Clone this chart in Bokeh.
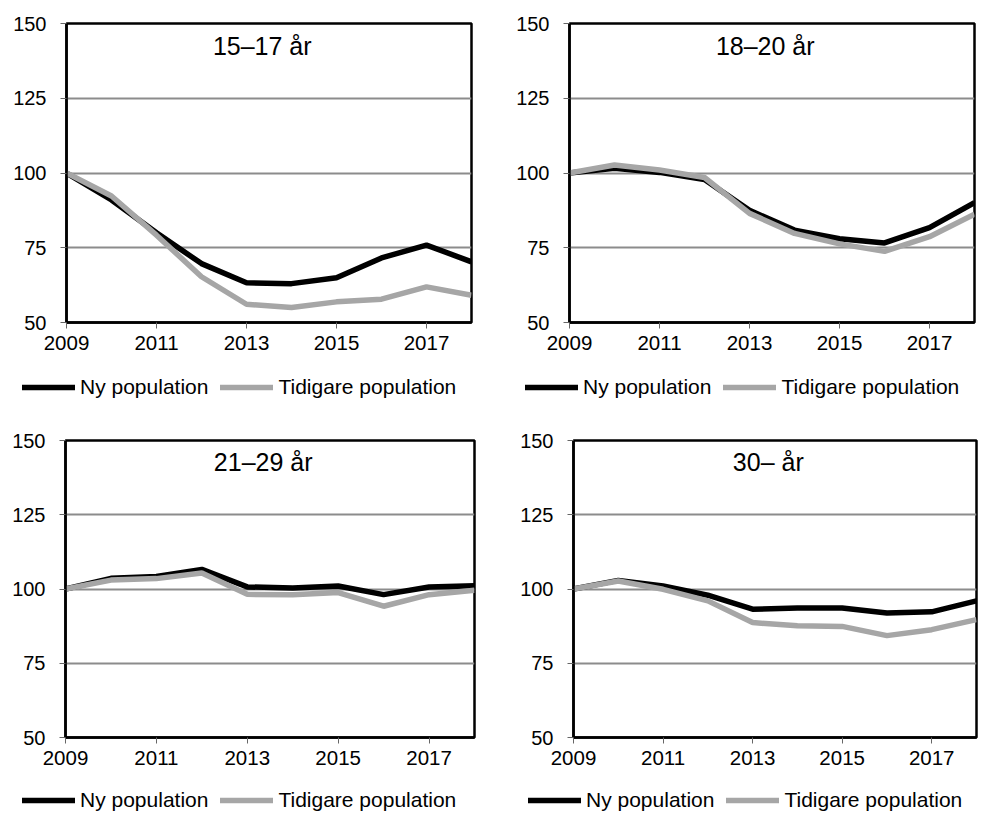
from bokeh.plotting import figure
from bokeh.models import Legend, LegendItem, FixedTicker, Range1d
from bokeh.layouts import column, row
from bokeh.embed import file_html
from bokeh.resources import INLINE

years = [2009, 2010, 2011, 2012, 2013, 2014, 2015, 2016, 2017, 2018]
x_ticks = [2009, 2011, 2013, 2015, 2017]
y_ticks = [50, 75, 100, 125, 150]

titles = ["15–17 år", "18–20 år", "21–29 år", "30– år"]

ny_15_17 = [100, 91, 80, 69.7, 63.3, 63, 65, 71.6, 75.9, 70.3]
tid_15_17 = [100, 92.3, 79.2, 65.3, 56.1, 55, 56.9, 57.8, 61.9, 59.1]

ny_18_20 = [100, 101.6, 100.2, 97.8, 87.5, 80.9, 78, 76.6, 81.7, 90.1]
tid_18_20 = [100, 102.7, 101, 98.5, 86.5, 79.8, 76.3, 73.8, 78.7, 86.2]

ny_21_29 = [100, 103.6, 104.2, 106.6, 100.7, 100.3, 101, 98.1, 100.7, 101.1]
tid_21_29 = [100, 103, 103.5, 105.4, 98.2, 98.1, 98.8, 94.2, 98.1, 99.6]

ny_30 = [100, 102.9, 101, 97.9, 93.2, 93.6, 93.6, 91.9, 92.3, 96]
tid_30 = [100, 102.7, 99.9, 96, 88.7, 87.6, 87.4, 84.3, 86.3, 89.7]

series_names = ["Ny population", "Tidigare population"]
series_colors = ["#000000", "#a6a6a6"]

FONT = "Liberation Sans"
LW = 5.5


def make_chart(title, ny, tid, width, height, b_left, b_top, frame_w, frame_h):
    b_right = width - b_left - frame_w
    b_bottom = height - b_top - frame_h
    p = figure(width=width, height=height, output_backend="svg", toolbar_location=None,
               x_range=Range1d(2009, 2018), y_range=Range1d(50, 150),
               min_border_left=b_left, min_border_right=b_right,
               min_border_top=b_top, min_border_bottom=b_bottom)
    p.background_fill_color = "white"
    p.border_fill_color = "white"
    p.outline_line_color = "black"
    p.outline_line_width = 2.5

    p.xgrid.visible = False
    p.ygrid.ticker = FixedTicker(ticks=y_ticks)
    p.ygrid.grid_line_color = "#8c8c8c"
    p.ygrid.grid_line_width = 1.8

    p.xaxis.ticker = FixedTicker(ticks=x_ticks)
    p.yaxis.ticker = FixedTicker(ticks=y_ticks)
    for ax in (p.xaxis[0], p.yaxis[0]):
        ax.axis_line_color = "black"
        ax.axis_line_width = 2.5
        ax.major_tick_line_color = "#666666"
        ax.major_tick_line_width = 1
        ax.major_tick_in = 0
        ax.major_tick_out = 6
        ax.minor_tick_line_color = None
        ax.major_label_text_font = FONT
        ax.major_label_text_font_size = "20px"
        ax.major_label_text_color = "black"
    p.xaxis.major_label_text_font_size = "20.5px"
    p.xaxis.major_label_standoff = 7
    p.yaxis.major_label_standoff = 14

    p.line(years, ny, line_color=series_colors[0], line_width=LW)
    p.line(years, tid, line_color=series_colors[1], line_width=LW)

    p.text(x=[2013.35], y=[142.6], text=[title], text_align="center",
           text_baseline="middle", text_font_size="25px", text_color="black",
           text_font={"value": FONT})
    return p


def make_legend(renderers, lx, ly):
    legend = Legend(items=[LegendItem(label=series_names[0], renderers=[renderers[0]]),
                           LegendItem(label=series_names[1], renderers=[renderers[1]])],
                    orientation="horizontal", location=(lx, ly))
    legend.label_text_font = FONT
    legend.label_text_font_size = "21px"
    legend.label_text_color = "black"
    legend.glyph_width = 53
    legend.glyph_height = 24
    legend.label_height = 24
    legend.label_standoff = 5
    legend.spacing = 12
    legend.padding = 0
    legend.margin = 0
    legend.border_line_color = None
    legend.background_fill_alpha = 0
    return legend


def make_legend_fig(width, height, positions):
    f = figure(width=width, height=height, output_backend="svg", toolbar_location=None,
               x_range=Range1d(0, 1), y_range=Range1d(0, 1),
               x_axis_type=None, y_axis_type=None,
               min_border_left=0, min_border_right=0, min_border_top=0, min_border_bottom=0)
    f.grid.visible = False
    f.outline_line_color = None
    f.background_fill_color = "white"
    f.border_fill_color = "white"
    # legend key renderers (kept outside the visible range; only their legend keys show)
    r1 = f.line(x=[-10, -9], y=[-10, -9], line_color=series_colors[0], line_width=LW, line_cap="round")
    r2 = f.line(x=[-10, -9], y=[-10, -9], line_color=series_colors[1], line_width=LW, line_cap="round")
    for lx, ly in positions:
        f.add_layout(make_legend([r1, r2], lx, ly), "center")
    return f


c1 = make_chart(titles[0], ny_15_17, tid_15_17, 500, 360, 66, 23, 405, 299)
c2 = make_chart(titles[1], ny_18_20, tid_18_20, 500, 360, 69, 23, 405, 299)
c3 = make_chart(titles[2], ny_21_29, tid_21_29, 500, 357, 65, 22, 409, 297)
c4 = make_chart(titles[3], ny_30, tid_30, 500, 357, 73, 22, 403, 297)

l_top = make_legend_fig(1000, 58, [(22, 19), (525, 19)])
l_bot = make_legend_fig(1000, 59, [(22, 22), (528, 22)])

layout = column(row(c1, c2), l_top, row(c3, c4), l_bot)

with open("out.html", "w") as f:
    f.write(file_html(layout, INLINE))
